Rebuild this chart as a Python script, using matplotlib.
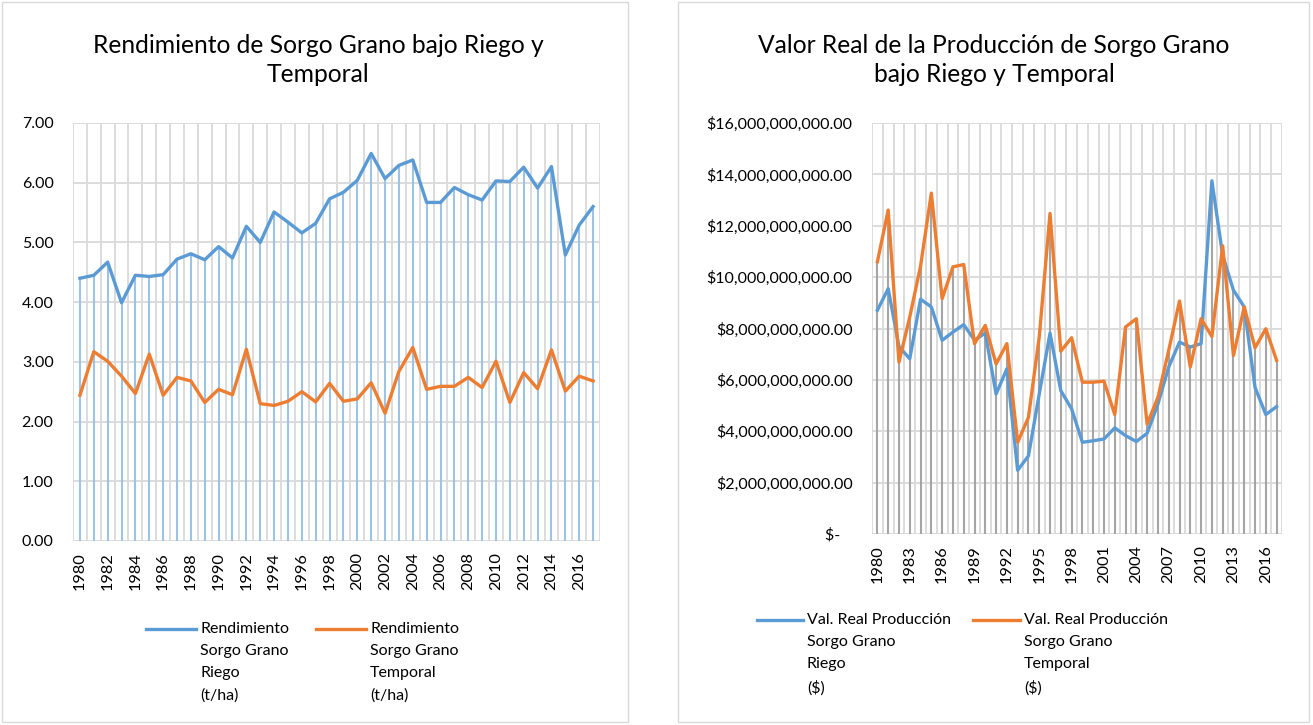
import numpy as np
import matplotlib
matplotlib.use("Agg")
import matplotlib.pyplot as plt
from matplotlib.lines import Line2D
from matplotlib.patches import Rectangle
from matplotlib.ticker import FuncFormatter

plt.rcParams["font.family"] = ["Lato", "DejaVu Sans"]

# Data
years = list(range(1980, 2018))

rend_riego = [4.40, 4.45, 4.67, 3.99, 4.45, 4.43, 4.46, 4.72, 4.81, 4.71,
              4.93, 4.74, 5.27, 5.00, 5.51, 5.34, 5.16, 5.32, 5.73, 5.84,
              6.04, 6.49, 6.07, 6.29, 6.38, 5.67, 5.67, 5.92, 5.80, 5.71,
              6.03, 6.02, 6.26, 5.91, 6.27, 4.79, 5.29, 5.60]

rend_temporal = [2.44, 3.17, 3.01, 2.76, 2.47, 3.13, 2.44, 2.74, 2.68, 2.32,
                 2.54, 2.45, 3.21, 2.30, 2.27, 2.34, 2.50, 2.33, 2.64, 2.34,
                 2.38, 2.65, 2.14, 2.84, 3.24, 2.54, 2.59, 2.59, 2.74, 2.57,
                 3.01, 2.32, 2.82, 2.55, 3.20, 2.51, 2.76, 2.68]

# miles de millones de pesos
val_riego = [8.71, 9.55, 7.30, 6.82, 9.14, 8.84, 7.54, 7.86, 8.15, 7.55,
             7.82, 5.45, 6.43, 2.48, 3.04, 5.45, 7.82, 5.58, 4.87, 3.57,
             3.63, 3.70, 4.13, 3.83, 3.60, 3.92, 5.06, 6.50, 7.47, 7.28,
             7.41, 13.75, 10.85, 9.49, 8.84, 5.71, 4.65, 4.96]

val_temporal = [10.60, 12.61, 6.69, 8.45, 10.43, 13.27, 9.16, 10.40, 10.49, 7.41,
                8.12, 6.62, 7.41, 3.57, 4.54, 7.67, 12.48, 7.12, 7.64, 5.91,
                5.91, 5.95, 4.65, 8.06, 8.38, 4.28, 5.32, 7.15, 9.07, 6.50,
                8.38, 7.69, 11.22, 6.95, 8.84, 7.25, 7.99, 6.76]

left_title = "Rendimiento de Sorgo Grano bajo Riego y\nTemporal"
right_title = "Valor Real de la Producción de Sorgo Grano\nbajo Riego y Temporal"
left_labels = ["Rendimiento\nSorgo Grano\nRiego\n(t/ha)",
               "Rendimiento\nSorgo Grano\nTemporal\n(t/ha)"]
right_labels = ["Val. Real Producción\nSorgo Grano\nRiego\n($)",
                "Val. Real Producción\nSorgo Grano\nTemporal\n($)"]

BLUE = "#5B9BD5"
ORANGE = "#ED7D31"
GRID = "#D9D9D9"
TXT = "#000000"

W, H = 1313, 725
fig = plt.figure(figsize=(W / 100, H / 100), dpi=100)

def fx(px):
    return px / W

def fy(py):
    return 1 - py / H

# chart borders
fig.add_artist(Rectangle((fx(2), fy(722)), fx(626), 720 / H, transform=fig.transFigure,
                         fill=False, edgecolor=GRID, lw=1))
fig.add_artist(Rectangle((fx(678), fy(722)), fx(631), 720 / H, transform=fig.transFigure,
                         fill=False, edgecolor=GRID, lw=1))

x = np.arange(len(years))


def setup(ax, step, drop_color, a, b):
    ax.set_xlim(-0.5, len(years) - 0.5)
    ax.set_xticks(x[::step])
    ax.set_xticklabels([str(y) for y in years[::step]], rotation=90, fontsize=11.8)
    ax.set_xticks(np.arange(-0.5, len(years), 1), minor=True)
    ax.grid(True, which="minor", axis="x", color=GRID, lw=1.3)
    ax.grid(True, which="major", axis="y", color=GRID, lw=1.3)
    ax.tick_params(which="both", length=0)
    ax.tick_params(axis="y", labelsize=11.5, pad=14)
    ax.tick_params(axis="x", pad=8)
    for s in ax.spines.values():
        s.set_visible(False)
    ax.set_axisbelow(True)
    top = np.maximum(a, b)
    ax.vlines(x, 0, top, color=drop_color, lw=1.5, zorder=2)
    ax.plot(x, a, color=BLUE, lw=2.4, zorder=3, solid_joinstyle="round")
    ax.plot(x, b, color=ORANGE, lw=2.4, zorder=4, solid_joinstyle="round")


# left chart
ax1 = fig.add_axes([fx(73), fy(541), fx(527), 418 / H])
setup(ax1, 2, "#9DC3E6", rend_riego, rend_temporal)
ax1.set_ylim(0, 7)
ax1.set_yticks(np.arange(0, 8, 1))
ax1.yaxis.set_major_formatter(FuncFormatter(lambda v, p: f"{v:.2f}"))
fig.text(fx(318), fy(60), left_title, ha="center", va="center", fontsize=17.7,
         linespacing=1.3, color=TXT)

# right chart
ax2 = fig.add_axes([fx(872), fy(534), fx(410), 411 / H])
setup(ax2, 3, "#A5A5A5", val_riego, val_temporal)
ax2.set_ylim(0, 16)
ax2.set_yticks(np.arange(0, 17, 2))


def money(v, p):
    if v == 0:
        return "$-   "
    return "${:,.2f}".format(v * 1e9)


ax2.yaxis.set_major_formatter(FuncFormatter(money))
fig.text(fx(994), fy(60), right_title, ha="center", va="center", fontsize=17.7,
         linespacing=1.3, color=TXT)


# legends
def legend_entry(x0, x1, yline, color, label):
    fig.add_artist(Line2D([fx(x0), fx(x1)], [fy(yline), fy(yline)], color=color, lw=2.4,
                          transform=fig.transFigure))
    fig.text(fx(x1 + 4), fy(yline - 7), label, ha="left", va="top", fontsize=11.5,
             linespacing=1.74, color=TXT, transform=fig.transFigure)


legend_entry(146, 196, 629, BLUE, left_labels[0])
legend_entry(316, 366, 629, ORANGE, left_labels[1])
legend_entry(757, 803, 620, BLUE, right_labels[0])
legend_entry(973, 1020, 620, ORANGE, right_labels[1])

fig.savefig("out.png", dpi=100)
